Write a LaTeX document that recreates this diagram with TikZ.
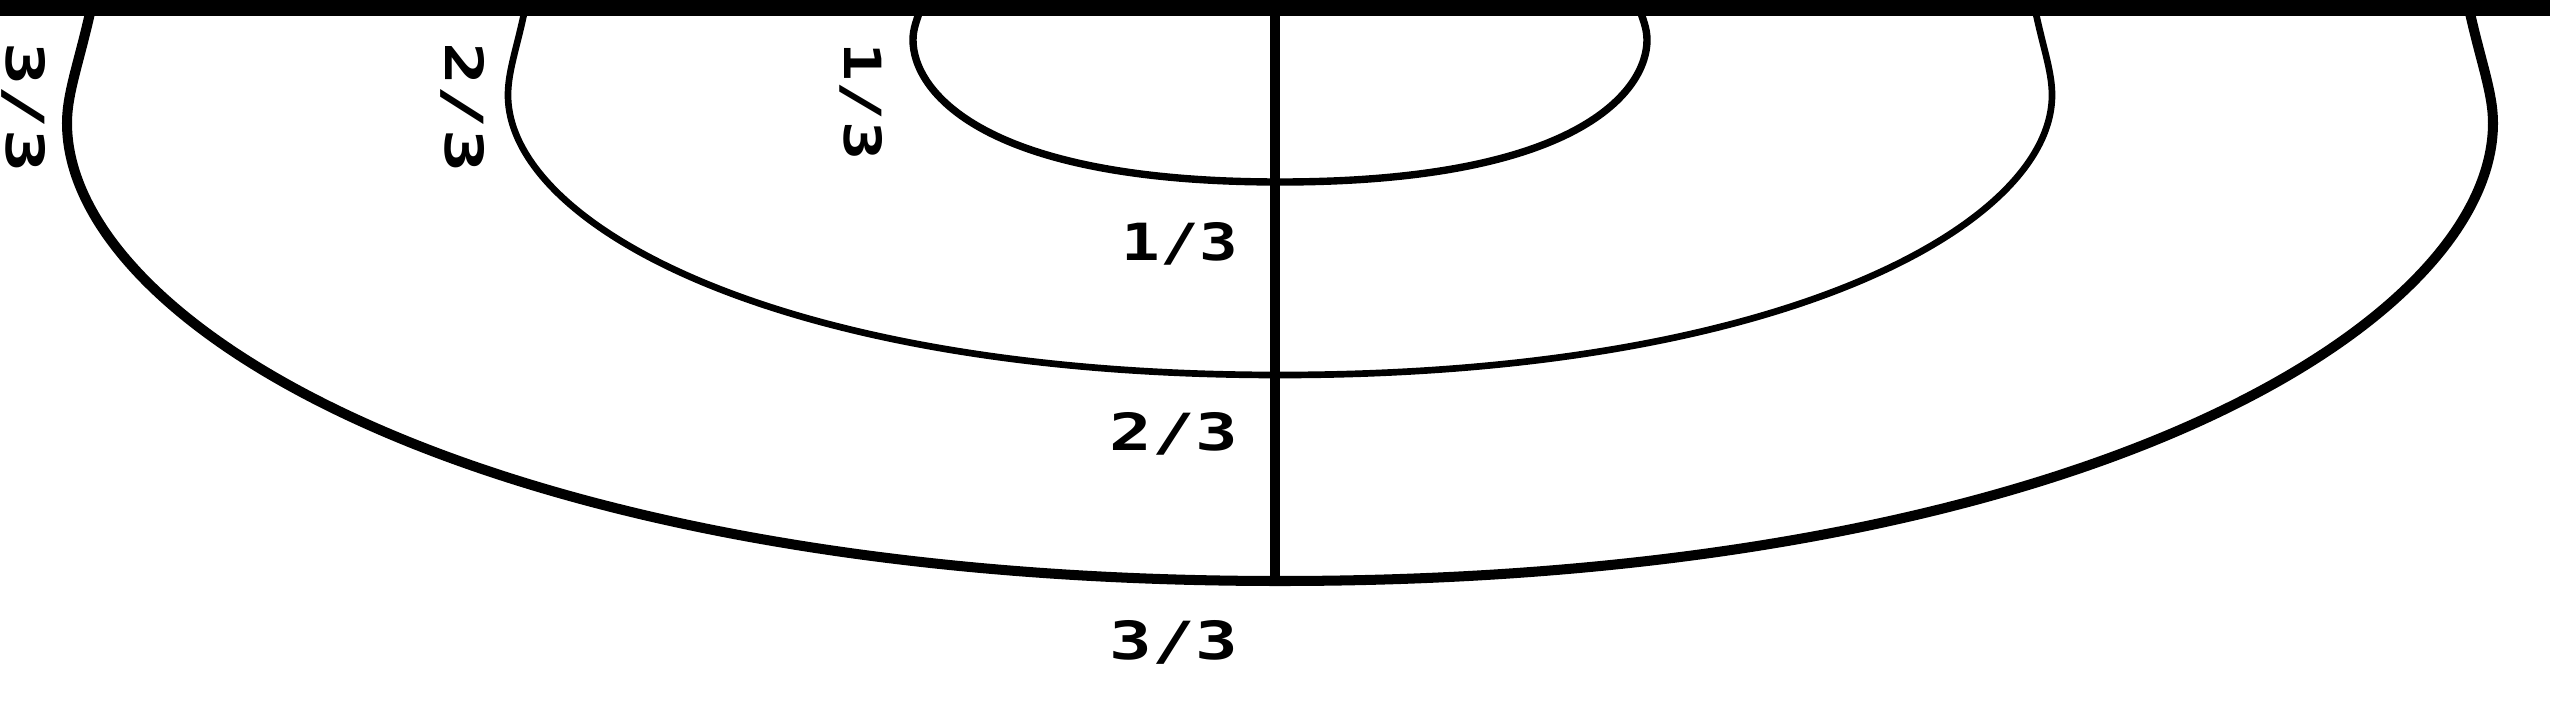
\documentclass[tikz,border=0pt]{standalone}
\usepackage{fontspec}
\newfontfamily\lblfont{DejaVu Sans Mono}
\begin{document}
\begin{tikzpicture}[x=0.01cm,y=-0.01cm,
  band/.style={line width=#1, line join=round},
  lbl/.style={inner sep=0pt, outer sep=0pt, font=\lblfont\bfseries}]
\useasboundingbox (0,0) rectangle (2550,712);
% outer curve (3/3)
\draw[band=2.85pt] (92,4) .. controls (80,60) and (67,92) .. (67,123)
  .. controls (67,323) and (480,581) .. (1280,581)
  .. controls (2080,581) and (2493,323) .. (2493,123)
  .. controls (2493,92) and (2480,60) .. (2468,4);
% middle curve (2/3)
\draw[band=1.9pt] (526,4) .. controls (518,45) and (508,70) .. (508,95)
  .. controls (508,225) and (780,375) .. (1280,375)
  .. controls (1780,375) and (2052,225) .. (2052,95)
  .. controls (2052,70) and (2042,45) .. (2034,4);
% inner curve (1/3)
\draw[band=2.1pt] (922,4) .. controls (917,20) and (913,28) .. (913,40)
  .. controls (913,90) and (980,182) .. (1280,182)
  .. controls (1580,182) and (1647,90) .. (1647,40)
  .. controls (1647,28) and (1643,20) .. (1638,4);
% top bar
\fill (0,0) rectangle (2550,16);
% vertical axis
\coordinate (vtop) at (1275,10);
\coordinate (vbot) at (1275,581);
\draw[line width=2.85pt] (vtop) -- (vbot);
% horizontal labels
\node[lbl] (h1) at (1180,244) {\resizebox{1.16cm}{0.38cm}{1/3}};
\node[lbl] (h2) at (1174,434) {\resizebox{1.28cm}{0.38cm}{2/3}};
\node[lbl] (h3) at (1174,642.5) {\resizebox{1.28cm}{0.39cm}{3/3}};
% rotated labels
\node[lbl, rotate=-90] (r3) at (23.5,107.5) {\resizebox{1.29cm}{0.39cm}{3/3}};
\node[lbl, rotate=-90] (r2) at (462.5,107.5) {\resizebox{1.29cm}{0.39cm}{2/3}};
\node[lbl, rotate=-90] (r1) at (861,101.5) {\resizebox{1.17cm}{0.38cm}{1/3}};
\end{tikzpicture}
\end{document}
